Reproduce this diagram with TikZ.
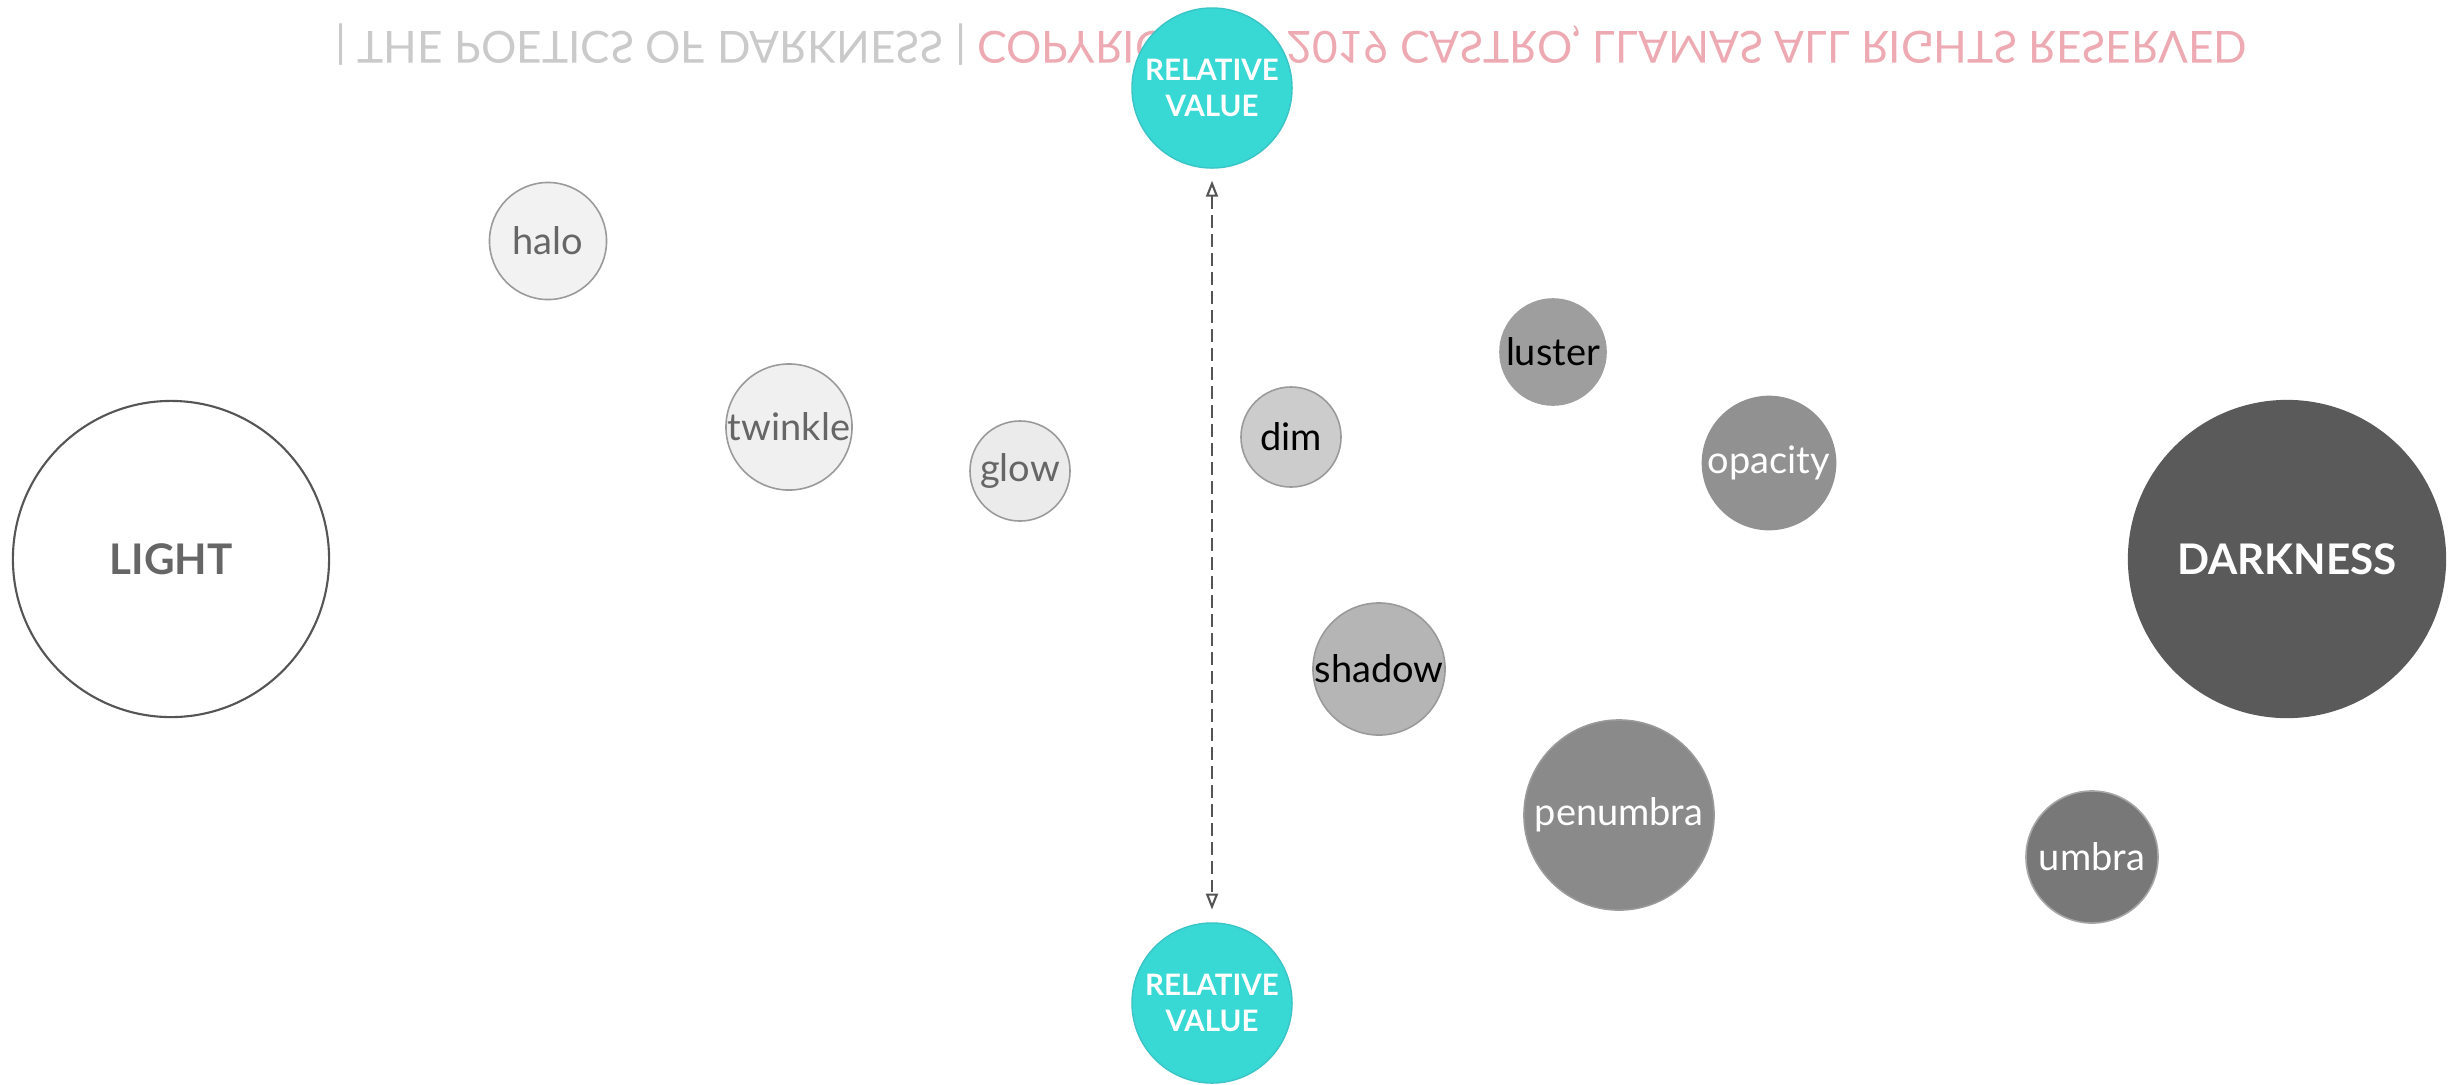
\documentclass[tikz,border=0pt]{standalone}
\usepackage{fontspec}
\setmainfont{Lato}
\usepackage{xcolor}
\usepackage{tikz}
\usetikzlibrary{positioning,arrows.meta}
\definecolor{relteal}{HTML}{38D8D4}
\definecolor{reledge}{HTML}{3BC4C6}
\definecolor{darkfill}{HTML}{5A5A5A}
\definecolor{lightedge}{HTML}{555555}
\definecolor{wordedge}{HTML}{9A9A9A}
\definecolor{greytext}{HTML}{666666}
\definecolor{credgray}{HTML}{CACACA}
\definecolor{credpink}{HTML}{EEAAB2}
\tikzset{
  pole/.style   ={draw, circle, line width=0.6pt, minimum size=3.16cm, inner sep=0pt, align=center, font=\fontsize{12}{14}\selectfont\bfseries},
  rel/.style    ={draw=reledge, circle, fill=relteal, line width=0.4pt, minimum size=1.6cm, inner sep=0pt, align=center, text=white, font=\fontsize{8.4}{10}\selectfont\bfseries},
  word/.style   ={draw=wordedge, circle, line width=0.45pt, inner sep=0pt, font=\fontsize{10.8}{13}\selectfont},
  credit/.style ={inner sep=0pt, anchor=center},
  arr/.style    ={{Triangle[open,length=1.6mm,width=1.2mm]}-{Triangle[open,length=1.6mm,width=1.2mm]}, draw=lightedge, line width=0.6pt, dash pattern=on 3.6pt off 1.8pt},
}
\begin{document}
\begin{tikzpicture}[x=0.01cm, y=-0.01cm]
  \useasboundingbox (0,0) rectangle (2451,1084);

  \node[credit] (credit) at (1291,45)
    {\scalebox{1}[-1]{\resizebox{19.1cm}{!}{\color{credgray}| THE POETICS OF DARKNESS | \color{credpink}COPYRIGHT © 2019 CASTRO, LLAMAS ALL RIGHTS RESERVED}}};

  \node[pole, draw=lightedge, fill=white, text=greytext] (light) at (171,559) {LIGHT};
  \node[pole, draw=darkfill, fill=darkfill, text=white] (dark) at (2287,559) {DARKNESS};

  \node[rel] (reltop) at (1212,88) {RELATIVE\\VALUE};
  \node[rel] (relbot) at (1212,1003) {RELATIVE\\VALUE};
  \draw[arr, shorten <=3.4pt, shorten >=3.6pt] (reltop) -- (relbot);

  \node[word, minimum size=1.17cm, fill=black!5,  text=greytext] (halo)    at (548,241)  {halo};
  \node[word, minimum size=1.26cm, fill=black!6,  text=greytext] (twinkle) at (789,427)  {twinkle};
  \node[word, minimum size=1.0cm,  fill=black!8,  text=greytext] (glow)    at (1020,471) {glow};
  \node[word, minimum size=1.0cm,  fill=black!20, text=black]    (dim)     at (1291,437) {dim};
  \node[word, minimum size=1.06cm, draw=black!38, fill=black!38, text=black] (luster) at (1553,352) {luster};
  \node[word, minimum size=1.33cm, draw=black!43, fill=black!43, text=white] (opacity) at (1769,463) {opacity};
  \node[word, minimum size=1.32cm, fill=black!29, text=black]    (shadow)  at (1379,669) {shadow};
  \node[word, minimum size=1.9cm,  fill=black!46, text=white]    (penumbra) at (1619,815) {penumbra};
  \node[word, minimum size=1.32cm, draw=black!35, fill=black!53, text=white] (umbra) at (2092,857) {umbra};
\end{tikzpicture}
\end{document}
